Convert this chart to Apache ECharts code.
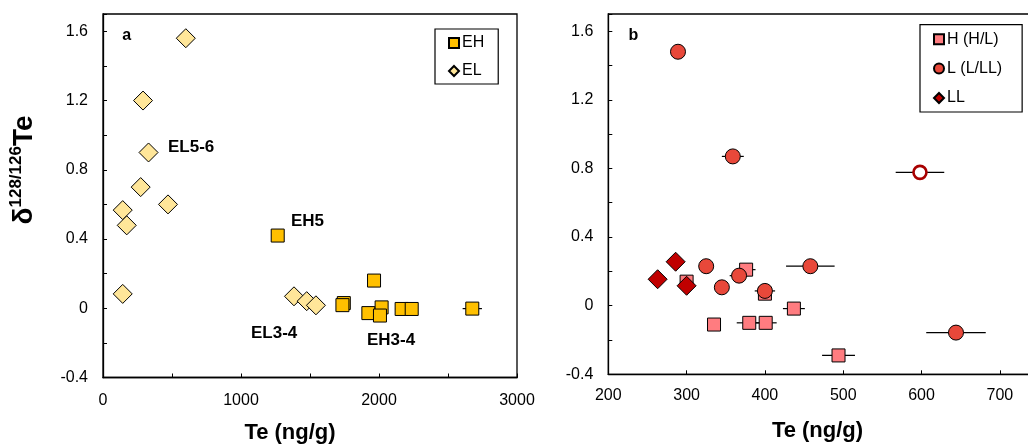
<!DOCTYPE html>
<html>
<head>
<meta charset="utf-8">
<script src="https://cdn.jsdelivr.net/npm/echarts@6/dist/echarts.min.js"></script>
<style>
html,body{margin:0;padding:0;background:#fff;}
#c{width:1028px;height:444px;}
</style>
</head>
<body>
<div id="c"></div>
<script>
// ---- Panel a data ----
const EH_TE = [1266, 1964, 1745, 1735, 1923, 2019, 2007, 2164, 2237, 2676];
const EH_D = [0.42, 0.16, 0.03, 0.018, -0.028, 0.005, -0.042, -0.004, -0.004, -0.002];
const EH_ERR = [0, 0, 0, 0, 0, 45, 0, 45, 0, 70];
const EL_TE = [600, 290, 330, 273, 471, 143, 172, 143, 1384, 1476, 1543];
const EL_D = [1.56, 1.20, 0.90, 0.70, 0.60, 0.567, 0.479, 0.083, 0.069, 0.041, 0.017];
// ---- Panel b data ----
const H_TE = [376, 300, 400, 437, 335, 380, 401, 494];
const H_D = [0.21, 0.14, 0.07, -0.017, -0.11, -0.10, -0.10, -0.29];
const H_ERR = [12, 0, 0, 14, 8, 16, 14, 21];
const L_TE = [289, 359, 458, 325, 367, 345, 400, 644];
const L_D = [1.48, 0.87, 0.23, 0.23, 0.175, 0.107, 0.086, -0.157];
const L_ERR = [0, 14, 31, 0, 12, 0, 13, 38];
const LOPEN_TE = [598];
const LOPEN_D = [0.777];
const LOPEN_ERR = [31];
const LL_TE = [286, 263, 300];
const LL_D = [0.256, 0.154, 0.116];
// ---- Tick label setup ----
const A_X_LABELS = [0, 1000, 2000, 3000];
const B_X_LABELS = [200, 300, 400, 500, 600, 700];
const Y_LABELS = [-0.4, 0, 0.4, 0.8, 1.2, 1.6];

const FONT = '"Liberation Sans", Arial, sans-serif';

function pts(xs, ys) { return xs.map((x, i) => [x, ys[i]]); }
function errs(xs, ys, es) {
  const out = [];
  xs.forEach((x, i) => { if (es[i] > 0) out.push([x, ys[i], es[i]]); });
  return out;
}
function errRender(params, api) {
  const x = api.value(0), y = api.value(1), e = api.value(2);
  const p1 = api.coord([x - e, y]), p2 = api.coord([x + e, y]);
  return { type: 'line', shape: { x1: p1[0], y1: p1[1], x2: p2[0], y2: p2[1] },
           style: { stroke: '#000', lineWidth: 1.2 } };
}
function yFmt(v) {
  const r = Math.round(v * 10) / 10;
  return Y_LABELS.some(t => Math.abs(t - r) < 1e-9) ? String(r) : '';
}
const axisCommon = {
  axisLine: { show: true, onZero: false, lineStyle: { color: '#000', width: 1.3 } },
  axisTick: { show: true, inside: true, length: 4, lineStyle: { color: '#000', width: 1 } },
  splitLine: { show: false }
};
const labelStyle = { color: '#000', fontSize: 16, fontFamily: FONT };
const mkStyle = (fill) => ({ color: fill, borderColor: '#000', borderWidth: 1, opacity: 1 });

const chart = echarts.init(document.getElementById('c'), null, { renderer: 'canvas' });
chart.setOption({
  animation: false,
  backgroundColor: '#fff',
  grid: [
    { left: 103, right: 511, top: 14, bottom: 66.5, show: true, borderColor: '#000', borderWidth: 1.3,
      containLabel: false, outerBoundsMode: 'none' },
    { left: 608.3, right: -11, top: 14, bottom: 69.7, show: true, borderColor: '#000', borderWidth: 1.3,
      containLabel: false, outerBoundsMode: 'none' }
  ],
  xAxis: [
    Object.assign({ type: 'value', gridIndex: 0, min: 0, max: 3000, interval: 500,
      axisLabel: Object.assign({ margin: 15, formatter: v => A_X_LABELS.includes(v) ? String(v) : '' }, labelStyle) }, axisCommon),
    Object.assign({ type: 'value', gridIndex: 1, min: 200, max: 750, interval: 100,
      axisLabel: Object.assign({ margin: 13, formatter: v => B_X_LABELS.includes(v) ? String(v) : '' }, labelStyle) }, axisCommon)
  ],
  yAxis: [
    Object.assign({ type: 'value', gridIndex: 0, min: -0.4, max: 1.7, interval: 0.2,
      axisLabel: Object.assign({ margin: 15, formatter: yFmt }, labelStyle) }, axisCommon),
    Object.assign({ type: 'value', gridIndex: 1, min: -0.4, max: 1.7, interval: 0.2,
      axisLabel: Object.assign({ margin: 15, formatter: yFmt }, labelStyle) }, axisCommon)
  ],
  legend: [
    { data: ['EH', 'EL'], orient: 'vertical', left: 435, top: 29, padding: [6, 14, 5, 13],
      itemGap: 12, itemWidth: 10, itemHeight: 10, selectedMode: false,
      borderColor: '#000', borderWidth: 1.2, borderRadius: 0, backgroundColor: '#fff',
      textStyle: { color: '#000', fontSize: 16, lineHeight: 16, fontFamily: FONT, padding: [0, 0, 0, -2] } },
    { data: ['H (H/L)', 'L (L/LL)', 'LL'], orient: 'vertical', left: 920, top: 24.7, padding: [6.5, 20, 6, 13],
      itemGap: 13.4, itemWidth: 10, itemHeight: 10, selectedMode: false,
      borderColor: '#000', borderWidth: 1.2, borderRadius: 0, backgroundColor: '#fff',
      textStyle: { color: '#000', fontSize: 16, lineHeight: 16, fontFamily: FONT, padding: [0, 0, 0, -2] } }
  ],
  series: [
    { type: 'custom', name: 'EH err', xAxisIndex: 0, yAxisIndex: 0, renderItem: errRender,
      encode: { x: 0, y: 1 }, data: errs(EH_TE, EH_D, EH_ERR), z: 1, silent: true },
    { type: 'scatter', name: 'EH', xAxisIndex: 0, yAxisIndex: 0, symbol: 'rect', symbolSize: 13,
      itemStyle: mkStyle('#FFC000'), data: pts(EH_TE, EH_D), z: 3, emphasis: { disabled: true } },
    { type: 'scatter', name: 'EL', xAxisIndex: 0, yAxisIndex: 0, symbol: 'diamond', symbolSize: 19,
      itemStyle: mkStyle('#FFE699'), data: pts(EL_TE, EL_D), z: 3, emphasis: { disabled: true } },
    { type: 'custom', name: 'b err', xAxisIndex: 1, yAxisIndex: 1, renderItem: errRender,
      encode: { x: 0, y: 1 },
      data: errs(H_TE, H_D, H_ERR).concat(errs(L_TE, L_D, L_ERR), errs(LOPEN_TE, LOPEN_D, LOPEN_ERR)),
      z: 1, silent: true },
    { type: 'scatter', name: 'H (H/L)', xAxisIndex: 1, yAxisIndex: 1, symbol: 'rect', symbolSize: 13,
      itemStyle: mkStyle('#FF7C80'), data: pts(H_TE, H_D), z: 3, emphasis: { disabled: true } },
    { type: 'scatter', name: 'L (L/LL)', xAxisIndex: 1, yAxisIndex: 1, symbol: 'circle', symbolSize: 15,
      itemStyle: mkStyle('#E8483A'), data: pts(L_TE, L_D), z: 4, emphasis: { disabled: true } },
    { type: 'scatter', name: 'L open', xAxisIndex: 1, yAxisIndex: 1, symbol: 'circle', symbolSize: 13,
      itemStyle: { color: '#fff', borderColor: '#A80000', borderWidth: 2.6, opacity: 1 },
      data: pts(LOPEN_TE, LOPEN_D), z: 4, emphasis: { disabled: true } },
    { type: 'scatter', name: 'LL', xAxisIndex: 1, yAxisIndex: 1, symbol: 'diamond', symbolSize: 19,
      itemStyle: mkStyle('#C00000'), data: pts(LL_TE, LL_D), z: 5, emphasis: { disabled: true } }
  ],
  graphic: [
    { type: 'text', x: 126.7, y: 36, style: { text: 'a', font: 'bold 16px ' + FONT, fill: '#000', align: 'center', verticalAlign: 'middle' } },
    { type: 'text', x: 633.3, y: 36, style: { text: 'b', font: 'bold 16px ' + FONT, fill: '#000', align: 'center', verticalAlign: 'middle' } },
    { type: 'text', x: 168, y: 147, style: { text: 'EL5-6', font: 'bold 17px ' + FONT, fill: '#000', align: 'left', verticalAlign: 'middle' } },
    { type: 'text', x: 291, y: 221, style: { text: 'EH5', font: 'bold 17px ' + FONT, fill: '#000', align: 'left', verticalAlign: 'middle' } },
    { type: 'text', x: 251, y: 333, style: { text: 'EL3-4', font: 'bold 17px ' + FONT, fill: '#000', align: 'left', verticalAlign: 'middle' } },
    { type: 'text', x: 367, y: 340, style: { text: 'EH3-4', font: 'bold 17px ' + FONT, fill: '#000', align: 'left', verticalAlign: 'middle' } },
    { type: 'text', x: 290, y: 433, style: { text: 'Te (ng/g)', font: 'bold 22px ' + FONT, fill: '#000', align: 'center', verticalAlign: 'middle' } },
    { type: 'text', x: 817.5, y: 431, style: { text: 'Te (ng/g)', font: 'bold 22px ' + FONT, fill: '#000', align: 'center', verticalAlign: 'middle' } },
    { type: 'text', x: 23, y: 170, rotation: Math.PI / 2,
      style: { text: '{d|δ}{s|128/126}{d|Te}', align: 'center', verticalAlign: 'middle', fill: '#000',
        rich: {
          d: { fontSize: 28, fontWeight: 'bold', fontFamily: FONT, lineHeight: 30, verticalAlign: 'bottom' },
          s: { fontSize: 17, fontWeight: 'bold', fontFamily: FONT, lineHeight: 17, verticalAlign: 'top' }
        } } }
  ]
});
</script>
</body>
</html>
